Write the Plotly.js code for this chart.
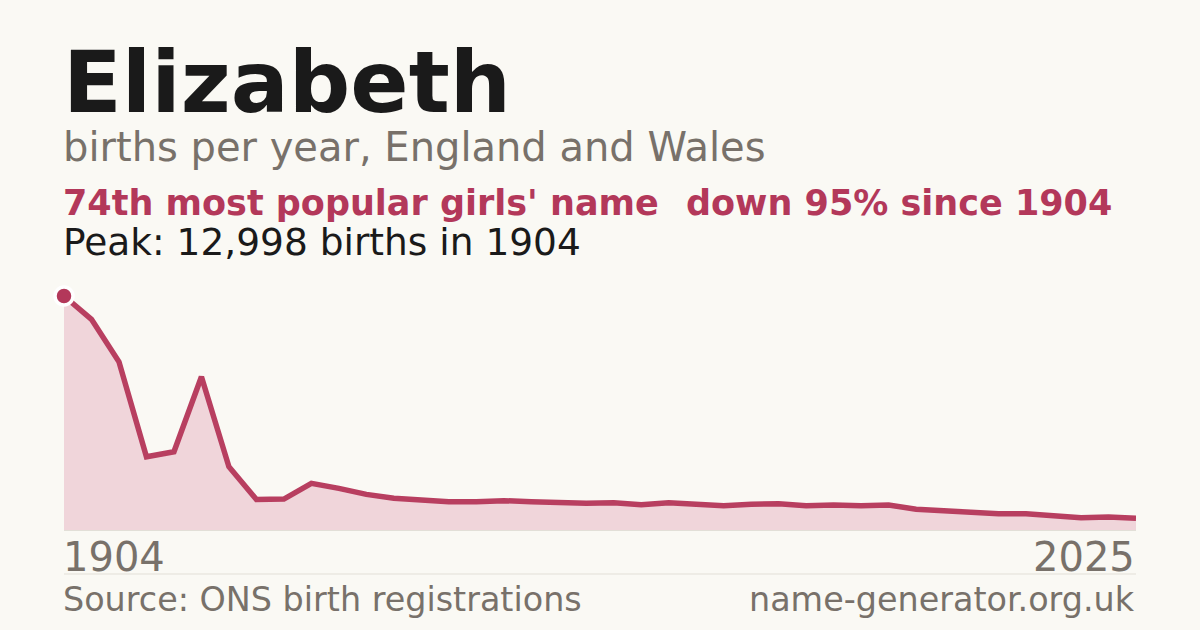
<!DOCTYPE html>
<html>
<head>
<meta charset="utf-8">
<script src="https://cdn.plot.ly/plotly-3.0.1.min.js"></script>
<style>
html,body{margin:0;padding:0;background:#faf9f4;}
#chart{width:1200px;height:630px;}
</style>
</head>
<body>
<div id="chart"></div>
<script>
// Data
const years = ["1904","1914","1924","1934","1944","1954","1964","1974","1984","1994",
  "1996","1997","1998","1999","2000","2001","2002","2003","2004","2005",
  "2006","2007","2008","2009","2010","2011","2012","2013","2014","2015",
  "2016","2017","2018","2019","2020","2021","2022","2023","2024","2025"];
const births = [12998, 11700, 9340, 4070, 4345, 8510, 3515, 1700, 1720, 2590,
  2310, 1980, 1760, 1680, 1570, 1570, 1630, 1570, 1520, 1480,
  1520, 1410, 1520, 1410, 1350, 1425, 1460, 1350, 1390, 1350,
  1390, 1150, 1075, 960, 905, 905, 795, 685, 720, 650];
const nameText = "Elizabeth";
const subtitleText = "births per year, England and Wales";
const rankText = "74th most popular girls' name";
const changeText = "down 95% since 1904";
const peakText = "Peak: 12,998 births in 1904";
const sourceText = "Source: ONS birth registrations";
const siteText = "name-generator.org.uk";

const RED = "#b3385a";
const GREY = "#78716a";
const W = 1200, H = 630;
const px = x => x / W;
const py = y => 1 - y / H;

const peakIdx = births.indexOf(Math.max(...births));

const traces = [
  {
    x: years, y: births, type: "scatter", mode: "lines",
    fill: "tozeroy", fillcolor: "#f0d5da",
    line: {color: "#b83f60", width: 5.5, shape: "linear"},
    hoverinfo: "x+y"
  },
  {
    x: [years[peakIdx]], y: [births[peakIdx]], type: "scatter", mode: "markers",
    marker: {color: RED, size: 18, line: {color: "#ffffff", width: 3.5}},
    cliponaxis: false, hoverinfo: "x+y"
  }
];

const font = "DejaVu Sans, Verdana, sans-serif";
function ann(text, x, y, size, color, xanchor, bold) {
  return {
    text: bold ? "<b>" + text + "</b>" : text,
    x: px(x), y: py(y), xref: "paper", yref: "paper",
    xanchor: xanchor || "left", yanchor: "middle",
    showarrow: false, font: {family: font, size: size, color: color}
  };
}

const layout = {
  width: W, height: H,
  margin: {l: 0, r: 0, t: 0, b: 0},
  paper_bgcolor: "#faf9f4", plot_bgcolor: "#faf9f4",
  showlegend: false,
  xaxis: {
    type: "category", domain: [px(64), px(1136)],
    range: [0, years.length - 1],
    showgrid: false, zeroline: false, showticklabels: false, ticks: "",
    showline: false, fixedrange: true
  },
  yaxis: {
    domain: [py(530), py(284)],
    range: [0, 12998 * 246 / 234],
    showgrid: false, zeroline: false, showticklabels: false, ticks: "",
    showline: false, fixedrange: true
  },
  shapes: [
    {type: "line", xref: "paper", yref: "paper", x0: px(64), x1: px(1136), y0: py(530.5), y1: py(530.5),
     line: {color: "#e2dfd7", width: 1}},
    {type: "line", xref: "paper", yref: "paper", x0: px(64), x1: px(1136), y0: py(574), y1: py(574),
     line: {color: "#e2dfd7", width: 1}}
  ],
  annotations: [
    ann(nameText, 61, 82, 86, "#1a1a1a", "left", true),
    ann(subtitleText, 61, 147, 40, GREY),
    ann(rankText, 61, 203, 35, RED, "left", true),
    ann(changeText, 684, 203, 35, RED, "left", true),
    ann(peakText, 61, 242, 37.5, "#1a1a1a"),
    ann(years[0], 61, 557, 40, GREY),
    ann(years[years.length - 1], 1137, 557, 40, GREY, "right"),
    ann(sourceText, 61, 599, 33.4, GREY),
    ann(siteText, 1137, 599, 33.4, GREY, "right")
  ]
};

Plotly.newPlot("chart", traces, layout, {displayModeBar: false, staticPlot: true});
</script>
</body>
</html>
